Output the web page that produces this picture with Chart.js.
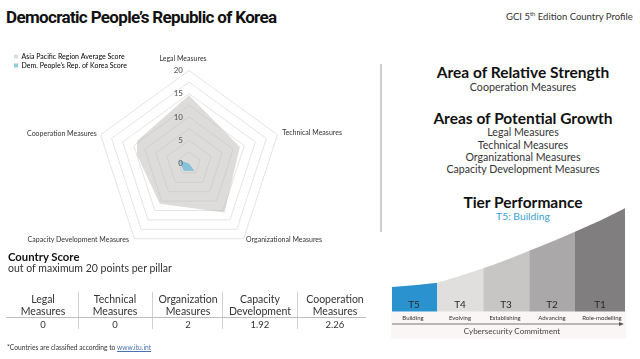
<!DOCTYPE html>
<html><head><meta charset="utf-8">
<script src="https://cdn.jsdelivr.net/npm/chart.js@4.4.1/dist/chart.umd.min.js"></script>
<style>
html,body{margin:0;padding:0;background:#fff;}
body{width:640px;height:359px;position:relative;overflow:hidden;font-family:Lato,'Open Sans',sans-serif;color:#222;}
.c{position:absolute;white-space:nowrap;transform:translate(-50%,-50%);line-height:1;}
.l{position:absolute;white-space:nowrap;transform:translate(0,-50%);line-height:1;}
#chartWrap{position:absolute;left:0;top:0;width:380px;height:290px;}
svg{position:absolute;left:0;top:0;}
</style></head><body>
<div class="l" style="left:6px;top:17px;font:700 17px Roboto;letter-spacing:-0.65px;color:#111">Democratic People’s Republic of Korea</div>
<div class="l" style="left:506px;top:16px;font:400 9.5px Lato;color:#333">GCI 5<span style="font-size:6px;vertical-align:4px;line-height:0">th</span> Edition Country Profile</div>

<div id="chartWrap"><canvas id="radar"></canvas></div>

<div style="position:absolute;left:380px;top:64px;width:1.5px;height:168px;background:#cfcfcf"></div>

<div class="c" style="left:523px;top:72px;font:700 15.5px Lato;color:#111">Area of Relative Strength</div>
<div class="c" style="left:523px;top:86px;font:400 10.7px Lato;color:#333">Cooperation Measures</div>
<div class="c" style="left:523px;top:118px;font:700 15.5px Lato;color:#111">Areas of Potential Growth</div>
<div class="c" style="left:523px;top:132px;font:400 10.6px Lato;color:#333">Legal Measures</div>
<div class="c" style="left:523px;top:145px;font:400 10.6px Lato;color:#333">Technical Measures</div>
<div class="c" style="left:523px;top:157px;font:400 10.6px Lato;color:#333">Organizational Measures</div>
<div class="c" style="left:523px;top:169px;font:400 10.6px Lato;color:#333">Capacity Development Measures</div>
<div class="c" style="left:523px;top:202px;font:700 15.5px Lato;color:#111">Tier Performance</div>
<div class="c" style="left:523px;top:216px;font:400 10.3px Lato;color:#3a9fd8">T5: Building</div>

<svg width="640" height="359" viewBox="0 0 640 359">
  <rect x="391" y="311.5" width="235" height="27" fill="#faf6f5"/>
  <path d="M392,311.5 L392,287 Q415,285.5 437.3,282.7 L437.3,311.5 Z" fill="#2a93cf"/>
  <path d="M437.3,311.5 L437.3,282.7 Q461,276 483.3,268.3 L483.3,311.5 Z" fill="#e0dfde"/>
  <path d="M483.3,311.5 L483.3,268.3 Q507,260 529.3,250.7 L529.3,311.5 Z" fill="#c8c6c5"/>
  <path d="M529.3,311.5 L529.3,250.7 Q553,241.5 575,231.7 L575,311.5 Z" fill="#aaa8a8"/>
  <path d="M575,311.5 L575,231.7 Q601,221 625,208.3 L625,311.5 Z" fill="#807e7e"/>
  <g font-family="Lato" font-size="10" fill="#2a2a2a" text-anchor="middle">
    <text x="414" y="307.5">T5</text><text x="460" y="307.5">T4</text><text x="506" y="307.5">T3</text><text x="552" y="307.5">T2</text><text x="600" y="307.5">T1</text>
  </g>
  <g font-family="Lato" font-size="6" fill="#333" text-anchor="middle">
    <text x="413" y="319.5">Building</text><text x="460" y="319.5">Evolving</text><text x="505" y="319.5">Establishing</text><text x="552" y="319.5">Advancing</text><text x="602" y="319.5">Role-modelling</text>
  </g>
  <line x1="392" y1="324" x2="620" y2="324" stroke="#555" stroke-width="0.8"/>
  <polygon points="619,322 624,324 619,326" fill="#555"/>
  <text x="512" y="333.5" font-family="Lato" font-size="8" fill="#444" text-anchor="middle">Cybersecurity Commitment</text>
</svg>

<div class="l" style="left:8px;top:256px;font:700 11.3px Lato;color:#111">Country Score</div>
<div class="l" style="left:8px;top:268px;font:400 10.5px Lato;color:#333">out of maximum 20 points per pillar</div>
<div id="table"></div>
<div class="l" style="left:7px;top:347px;font:400 6.7px Lato;color:#333">*Countries are classified according to <span style="color:#4a72b8;text-decoration:underline">www.itu.int</span></div>

<script>
const categories = ['Legal Measures', 'Technical Measures', 'Organizational Measures', 'Capacity Development Measures', 'Cooperation Measures'];
const regionAverage = [14.7, 11.5, 13.0, 10.7, 12.8];
const countryScore = [0, 0, 2, 1.92, 2.26];
const tickLabels = [0, 5, 10, 15, 20];
const tableHeaders = [['Legal', 'Measures'], ['Technical', 'Measures'], ['Organization', 'Measures'], ['Capacity', 'Development'], ['Cooperation', 'Measures']];
const seriesNames = ['Asia Pacific Region Average Score', "Dem. People's Rep. of Korea Score"];

// layout / style (not data)
const CENTER = {x: 189, y: 163.5, r: 93};
const labelOffset = [12, 5, 4, 4, 4];
const labelDx = [-6, 0, 0, -3, 0];
const labelDy = [0, 0, -2, -2, 0];
const labelAlign = ['center', 'left', 'left', 'right', 'right'];

const radarText = {
  id: 'radarText',
  afterDraw(chart) {
    const s = chart.scales.r, ctx = chart.ctx;
    ctx.save();
    ctx.font = '600 8px Lato';
    ctx.fillStyle = '#666';
    ctx.textAlign = 'right';
    ctx.textBaseline = 'middle';
    tickLabels.forEach(v => {
      const d = s.getDistanceFromCenterForValue(v);
      ctx.fillText(String(v), s.xCenter - 6, s.yCenter - d);
    });
    ctx.font = '7px Lato';
    ctx.fillStyle = '#333';
    categories.forEach((c, i) => {
      const p = s.getPointPosition(i, s.drawingArea + labelOffset[i]);
      ctx.textAlign = labelAlign[i];
      ctx.fillText(c, p.x + labelDx[i], p.y + labelDy[i]);
    });
    ctx.restore();
  }
};

new Chart(document.getElementById('radar'), {
  type: 'radar',
  data: {
    labels: categories,
    datasets: [
      {label: seriesNames[0], data: regionAverage, order: 1, backgroundColor: 'rgba(190,188,186,0.52)', borderWidth: 0, borderColor: 'rgba(0,0,0,0)', pointRadius: 0},
      {label: seriesNames[1], data: countryScore, order: 0, backgroundColor: 'rgba(125,192,216,0.9)', borderWidth: 0, borderColor: 'rgba(0,0,0,0)', pointRadius: 0}
    ]
  },
  options: {
    responsive: true,
    maintainAspectRatio: false,
    animation: false,
    layout: {padding: {left: 12, top: 51}},
    plugins: {
      legend: {
        position: 'left', align: 'start',
        labels: {boxWidth: 4, boxHeight: 4, padding: 2, color: '#333', font: {family: 'Lato', size: 7},
          generateLabels(chart) {
            const cols = ['#dcdcdc', '#92cddc'];
            return chart.data.datasets.map((d, i) => ({text: d.label, fillStyle: cols[i], strokeStyle: cols[i], lineWidth: 0, datasetIndex: i}));
          }
        }
      },
      tooltip: {enabled: false}
    },
    scales: {
      r: {
        min: 0, max: 20,
        ticks: {stepSize: 2.5, display: false},
        grid: {color: '#e4e4e4', lineWidth: 1},
        angleLines: {display: false},
        pointLabels: {display: false},
        afterFit(s) { s.xCenter = CENTER.x; s.yCenter = CENTER.y; s.drawingArea = CENTER.r; }
      }
    }
  },
  plugins: [radarText]
});

// table
const colX = [43, 115, 188, 260, 335];
const sepX = [78, 152, 222, 297];
const tbl = document.getElementById('table');
let html = '';
tableHeaders.forEach((h, i) => {
  html += `<div class="c" style="left:${colX[i]}px;top:299px;font:400 10.5px Lato;color:#333">${h[0]}</div>`;
  html += `<div class="c" style="left:${colX[i]}px;top:311px;font:400 10.5px Lato;color:#333">${h[1]}</div>`;
  html += `<div class="c" style="left:${colX[i]}px;top:323.5px;font:400 9.5px Lato;color:#333">${String(countryScore[i])}</div>`;
});
sepX.forEach(x => { html += `<div style="position:absolute;left:${x}px;top:292px;width:1px;height:37px;background:#d0d0d0"></div>`; });
html += '<div style="position:absolute;left:6px;top:317px;width:360px;height:1px;background:#bdbdbd"></div>';
tbl.innerHTML = html;
</script>
</body></html>
